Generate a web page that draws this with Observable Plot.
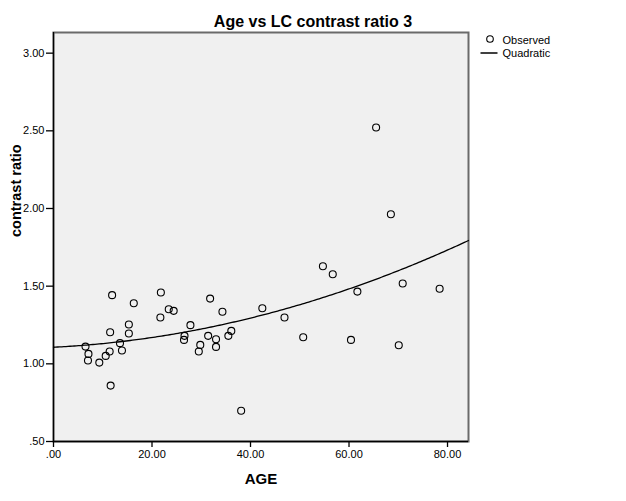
<!DOCTYPE html>
<html>
<head>
<meta charset="utf-8">
<script src="https://cdn.jsdelivr.net/npm/d3@7"></script>
<script src="https://cdn.jsdelivr.net/npm/@observablehq/plot@0.6"></script>
<style>
  html, body { margin: 0; padding: 0; background: #fff; }
  #chart { width: 626px; height: 501px; }
</style>
</head>
<body>
<div id="chart"></div>
<script>
const age = [6.5, 7.1, 7.0, 9.3, 10.6, 11.4, 11.5, 11.9, 11.6, 13.5, 13.9, 15.3, 15.3, 16.3,
  21.8, 21.7, 23.4, 24.4, 26.6, 26.5, 27.8, 29.8, 29.5, 31.8, 31.4, 33.0, 33.0, 34.3, 35.5, 36.1,
  38.1, 42.4, 46.9, 50.7, 54.7, 56.7, 60.4, 61.7, 65.5, 68.5, 70.1, 70.9, 78.4];
const contrastRatio = [1.111, 1.064, 1.021, 1.008, 1.051, 1.079, 1.203, 1.442, 0.860, 1.133, 1.086, 1.253, 1.195, 1.390,
  1.459, 1.298, 1.351, 1.341, 1.180, 1.154, 1.249, 1.122, 1.079, 1.420, 1.180, 1.158, 1.109, 1.335, 1.180, 1.212,
  0.698, 1.358, 1.298, 1.171, 1.628, 1.577, 1.154, 1.465, 2.521, 1.963, 1.120, 1.517, 1.483];
const xTicks = [0, 20, 40, 60, 80];
const yTicks = [0.5, 1.0, 1.5, 2.0, 2.5, 3.0];
const xDomain = [0, 84.26];
const yDomain = [0.5, 3.133];
const titleText = "Age vs LC contrast ratio 3";
const xLabel = "AGE";
const yLabel = "contrast ratio";
const legendLabels = ["Observed", "Quadratic"];

const data = age.map((a, i) => ({age: a, ratio: contrastRatio[i]}));

// Quadratic least-squares fit (as the reference's "Quadratic" curve)
function quadFit(xs, ys) {
  let s = [0,0,0,0,0], t = [0,0,0];
  xs.forEach((x, i) => {
    const y = ys[i];
    for (let k = 0; k < 5; k++) s[k] += Math.pow(x, k);
    for (let k = 0; k < 3; k++) t[k] += y * Math.pow(x, k);
  });
  const A = [[s[0], s[1], s[2], t[0]], [s[1], s[2], s[3], t[1]], [s[2], s[3], s[4], t[2]]];
  for (let c = 0; c < 3; c++) {
    for (let r = c + 1; r < 3; r++) {
      const f = A[r][c] / A[c][c];
      for (let k = c; k < 4; k++) A[r][k] -= f * A[c][k];
    }
  }
  const b = [0,0,0];
  for (let r = 2; r >= 0; r--) {
    let v = A[r][3];
    for (let k = r + 1; k < 3; k++) v -= A[r][k] * b[k];
    b[r] = v / A[r][r];
  }
  return b;
}
const coef = quadFit(age, contrastRatio);
const fitPts = d3.range(0, 201).map(i => {
  const x = xDomain[0] + (xDomain[1] - xDomain[0]) * i / 200;
  return {age: x, ratio: coef[0] + coef[1] * x + coef[2] * x * x};
});

const fmt = d => d3.format(".2f")(d).replace(/^0\./, ".");
const font = "'Liberation Sans', Arial, sans-serif";

const chart = Plot.plot({
  width: 626,
  height: 501,
  marginLeft: 53,
  marginRight: 158,
  marginTop: 32,
  marginBottom: 60,
  style: {fontFamily: font, fontSize: "11px", color: "#000", background: "#fff", overflow: "visible"},
  x: {domain: xDomain},
  y: {domain: yDomain},
  marks: [
    Plot.frame({fill: "#f0f0f0", stroke: "none"}),
    Plot.frame({stroke: "#6a6a6a", strokeWidth: 2}),
    Plot.ruleX([xDomain[0]], {stroke: "#000", strokeWidth: 1.3}),
    Plot.ruleY([yDomain[0]], {stroke: "#000", strokeWidth: 1.3}),
    Plot.axisX({ticks: xTicks, tickFormat: fmt, tickSize: 6, tickPadding: 3, fontSize: 11, label: null, stroke: "#000", strokeWidth: 1.3, fill: "#000"}),
    Plot.axisY({ticks: yTicks, tickFormat: fmt, tickSize: 7, tickPadding: 2, fontSize: 11, label: null, stroke: "#000", strokeWidth: 1.3, fill: "#000"}),
    Plot.line(fitPts, {x: "age", y: "ratio", stroke: "#000", strokeWidth: 1.3}),
    Plot.dot(data, {x: "age", y: "ratio", r: 3.5, stroke: "#000", strokeWidth: 1.1, fill: "none"}),
    Plot.text([xLabel], {frameAnchor: "bottom", dy: 38, fontSize: 15, fontWeight: "bold", fill: "#000", lineAnchor: "middle"}),
    Plot.text([yLabel], {frameAnchor: "left", dx: -37, rotate: -90, fontSize: 14.5, fontWeight: "bold", fill: "#000", lineAnchor: "middle"})
  ]
});

const svg = d3.select(chart);
svg.append("text")
  .attr("x", 313).attr("y", 26.5)
  .attr("text-anchor", "middle")
  .style("font-family", font).style("font-size", "16px").style("font-weight", "bold")
  .attr("fill", "#000")
  .text(titleText);

const lg = svg.append("g").style("font-family", font).style("font-size", "11px").attr("text-anchor", "start");
lg.append("circle").attr("cx", 490).attr("cy", 39).attr("r", 3.3)
  .attr("fill", "none").attr("stroke", "#000").attr("stroke-width", 1.1);
lg.append("text").attr("x", 502.5).attr("y", 44).attr("text-anchor", "start").attr("fill", "#000").text(legendLabels[0]);
lg.append("line").attr("x1", 480.5).attr("x2", 497.5).attr("y1", 53).attr("y2", 53)
  .attr("stroke", "#000").attr("stroke-width", 1.5);
lg.append("text").attr("x", 502.5).attr("y", 57).attr("text-anchor", "start").attr("fill", "#000").text(legendLabels[1]);

document.getElementById("chart").appendChild(chart);
</script>
</body>
</html>
